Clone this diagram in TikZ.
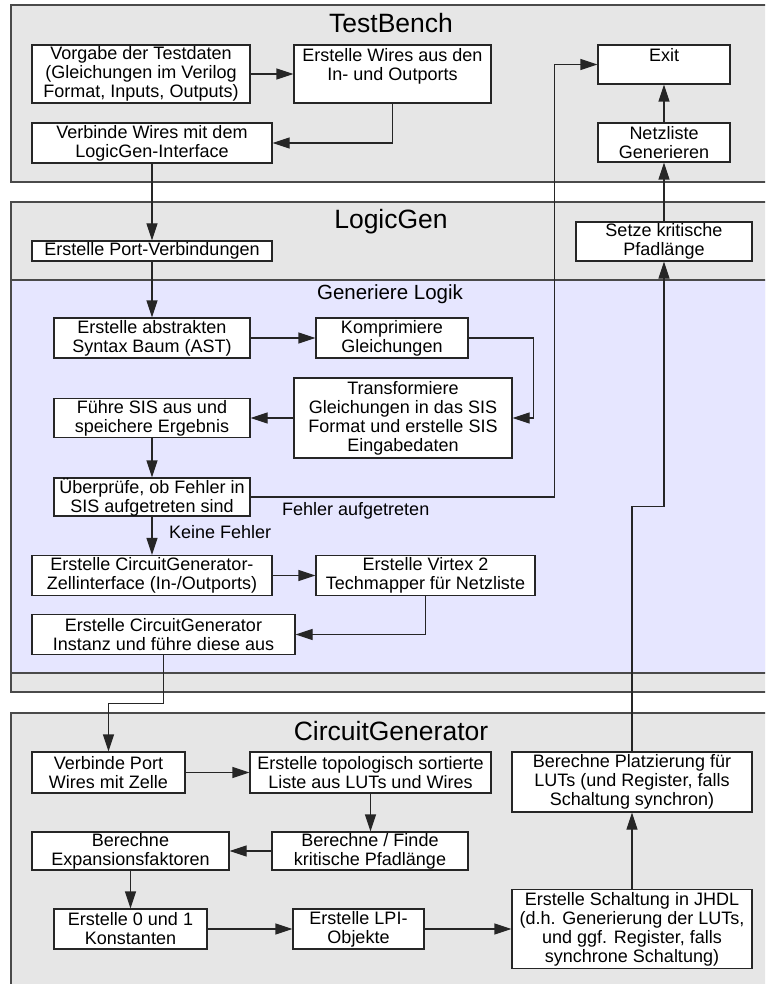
\documentclass[tikz,border=0pt]{standalone}
\usepackage{fontspec}
\setmainfont{Liberation Sans}
\usetikzlibrary{arrows.meta,calc}
\definecolor{panelgray}{HTML}{E6E6E6}
\definecolor{logicblue}{HTML}{E6E6FF}
\definecolor{framegray}{HTML}{4A4A4A}
\newcommand\boxfont{\fontsize{18}{19}\selectfont}
\newcommand\titlefont{\fontsize{26.5}{30}\selectfont}

\begin{document}
\begin{tikzpicture}[x=1pt,y=-1pt,
  panel/.style={draw=framegray,line width=1.4pt,fill=panelgray},
  subpanel/.style={draw=framegray,line width=1.4pt,fill=logicblue},
  stepbox/.style={draw=black!85,line width=1.1pt,fill=white,inner sep=0pt,align=center,font=\boxfont},
  title/.style={font=\titlefont,anchor=base,inner sep=0pt},
  edgelabel/.style={font=\boxfont,anchor=base west,inner sep=0pt},
  flow/.style={draw=black!85,line width=1.1pt,-{Triangle[length=17pt,width=11pt]}},
]
\useasboundingbox (0,0) rectangle (765,984);
\clip (0,0) rectangle (765,984);

% ---- panels ----
\draw[panel] (11,5) rectangle (775,182);
\draw[panel] (11,202) rectangle (775,692);
\draw[subpanel] (11,280) rectangle (775,673);
\draw[panel] (11,713) rectangle (775,1000);

\node[title] (tbtitle) at (391,33) {TestBench};
\node[title] (lgtitle) at (391,229) {LogicGen};
\node[font=\fontsize{20.5}{24}\selectfont,anchor=base,inner sep=0pt] (gltitle) at (390,299) {Generiere Logik};
\node[title] (cgtitle) at (391,740) {CircuitGenerator};

% ---- TestBench ----
\node[stepbox,minimum width=218pt,minimum height=58pt] (vorgabe) at (141,74)
  {Vorgabe der Testdaten\\(Gleichungen im Verilog\\Format, Inputs, Outputs)};
\node[stepbox,minimum width=197pt,minimum height=58pt] (wires) at (392.5,74)
  {Erstelle Wires aus den\\In- und Outports\\\mbox{}};
\node[stepbox,minimum width=240pt,minimum height=40pt] (verbinde) at (152,143)
  {Verbinde Wires mit dem\\LogicGen-Interface};
\node[stepbox,minimum width=132pt,minimum height=39pt] (exit) at (664,64.5)
  {Exit\\\mbox{}};
\node[stepbox,minimum width=132pt,minimum height=39pt] (netz) at (664,142.5)
  {Netzliste\\Generieren};

% ---- LogicGen ----
\node[stepbox,minimum width=240pt,minimum height=20pt] (port) at (152,251)
  {Erstelle Port-Verbindungen};
\node[stepbox,minimum width=176pt,minimum height=39pt] (setze) at (664,241.5)
  {Setze kritische\\Pfadlänge};
\node[stepbox,minimum width=196pt,minimum height=40pt] (ast) at (152,338)
  {Erstelle abstrakten\\Syntax Baum (AST)};
\node[stepbox,minimum width=152pt,minimum height=40pt] (kompr) at (392,338)
  {Komprimiere\\Gleichungen};
\node[stepbox,minimum width=218pt,minimum height=80pt] (trans) at (403,418)
  {Transformiere\\Gleichungen in das SIS\\Format und erstelle SIS\\Eingabedaten};
\node[stepbox,minimum width=196pt,minimum height=39pt] (sis) at (152,418)
  {Führe SIS aus und\\speichere Ergebnis};
\node[stepbox,minimum width=196pt,minimum height=38pt] (check) at (152,497)
  {Überprüfe, ob Fehler in\\SIS aufgetreten sind};
\node[stepbox,minimum width=240pt,minimum height=40pt] (zell) at (152,575.5)
  {Erstelle CircuitGenerator-\\Zellinterface (In-/Outports)};
\node[stepbox,minimum width=219pt,minimum height=40pt] (virtex) at (425.5,575.5)
  {Erstelle Virtex 2\\Techmapper für Netzliste};
\node[stepbox,minimum width=263pt,minimum height=40pt] (inst) at (163.5,634.5)
  {Erstelle CircuitGenerator\\Instanz und führe diese aus};

% ---- CircuitGenerator ----
\node[stepbox,minimum width=153pt,minimum height=41pt] (vport) at (108.5,772.5)
  {Verbinde Port\\Wires mit Zelle};
\node[stepbox,minimum width=241pt,minimum height=41pt] (topo) at (370.5,772.5)
  {Erstelle topologisch sortierte\\Liste aus LUTs und Wires};
\node[stepbox,minimum width=196pt,minimum height=38pt] (finde) at (370,851)
  {Berechne / Finde\\kritische Pfadlänge};
\node[stepbox,minimum width=197pt,minimum height=38pt] (expan) at (130.5,851)
  {Berechne\\Expansionsfaktoren};
\node[stepbox,minimum width=153pt,minimum height=40pt] (konst) at (130.5,929)
  {Erstelle 0 und 1\\Konstanten};
\node[stepbox,minimum width=131pt,minimum height=40pt] (lpi) at (358.5,929)
  {Erstelle LPI-\\Objekte};
\node[stepbox,minimum width=240pt,minimum height=79pt] (schalt) at (632,929)
  {Erstelle Schaltung in JHDL\\(d.h. Generierung der LUTs,\\und ggf. Register, falls\\synchrone Schaltung)};
\node[stepbox,minimum width=240pt,minimum height=60pt] (platz) at (632,782)
  {Berechne Platzierung für\\LUTs (und Register, falls\\Schaltung synchron)};

% ---- connectors ----
\draw[flow] (vorgabe.east) -- (wires.west);
\draw[flow] (wires.south) |- (verbinde.east);
\draw[flow] (verbinde.south) -- (port.north);
\draw[flow] (port.south) -- (ast.north);
\draw[flow] (ast.east) -- (kompr.west);
\draw[flow] (kompr.east) -- ++(65,0) |- (trans.east);
\draw[flow] (trans.west) -- (sis.east);
\draw[flow] (sis.south) -- (check.north);
\draw[flow] (check.east) -| ($(exit.west)+(-43,0)$) -- (exit.west);
\draw[flow] (check.south) -- (zell.north);
\draw[flow] (zell.east) -- (virtex.west);
\draw[flow] (virtex.south) |- (inst.east);
\draw[flow] (inst.south) -- ++(0,48) -| (vport.north);
\draw[flow] (vport.east) -- (topo.west);
\draw[flow] (topo.south) -- (topo.south |- finde.north);
\draw[flow] (finde.west) -- (expan.east);
\draw[flow] (expan.south) -- (konst.north);
\draw[flow] (konst.east) -- (lpi.west);
\draw[flow] (lpi.east) -- (schalt.west);
\draw[flow] (schalt.north) -- (platz.south);
\draw[flow] (platz.north) -- ++(0,-245) -| (setze.south);
\draw[flow] (setze.north) -- (netz.south);
\draw[flow] (netz.north) -- (exit.south);

\node[edgelabel] (fehler) at (282,515) {Fehler aufgetreten};
\node[edgelabel] (keine) at (169,538) {Keine Fehler};
\end{tikzpicture}
\end{document}
